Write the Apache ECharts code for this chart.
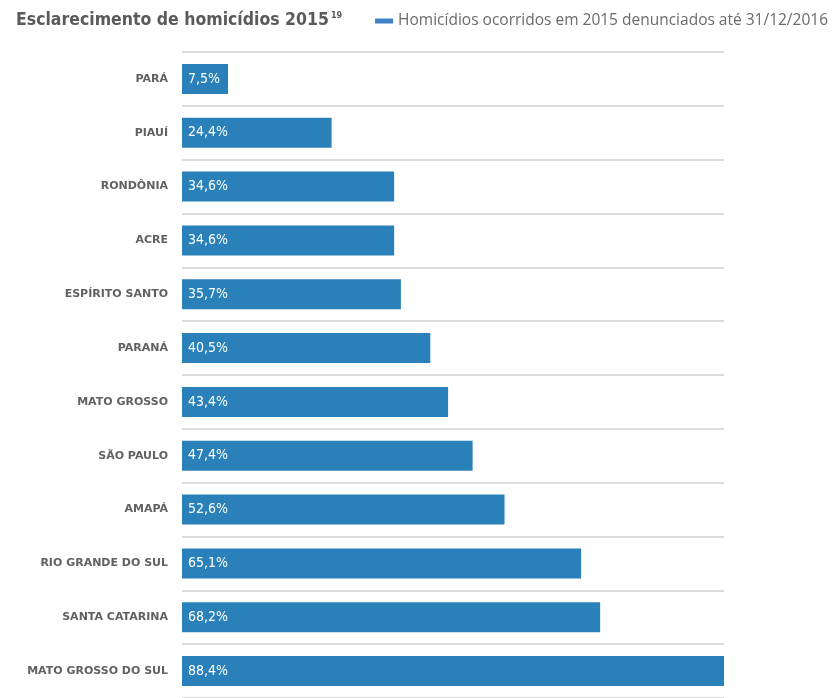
<!DOCTYPE html>
<html>
<head>
<meta charset="utf-8">
<title>Esclarecimento de homicídios 2015</title>
<script src="https://cdn.jsdelivr.net/npm/echarts@6/dist/echarts.min.js"></script>
<style>
  html, body { margin: 0; padding: 0; background: #fff; }
  #chart { width: 835px; height: 698px; }
</style>
</head>
<body>
<div id="chart"></div>
<script>
// dados
var estados = ['PARÁ', 'PIAUÍ', 'RONDÔNIA', 'ACRE', 'ESPÍRITO SANTO', 'PARANÁ', 'MATO GROSSO',
  'SÃO PAULO', 'AMAPÁ', 'RIO GRANDE DO SUL', 'SANTA CATARINA', 'MATO GROSSO DO SUL']
var esclarecidos = [7.5, 24.4, 34.6, 34.6, 35.7, 40.5, 43.4, 47.4, 52.6, 65.1, 68.2, 88.4]
var serieNome = 'Homicídios ocorridos em 2015 denunciados até 31/12/2016'

var myChart = echarts.init(document.getElementById('chart'))

var options = {
  animation: false,
  title: {
    text: '{t|Esclarecimento de homicídios 2015}{sup|19}',
    left: 11,
    top: 6,
    textStyle: {
      rich: {
        t: {
          fontFamily: 'DejaVu Sans Condensed',
          fontWeight: 'bold',
          fontSize: 17.5,
          color: '#5a5a5a'
        },
        sup: {
          fontFamily: 'DejaVu Sans Condensed',
          fontWeight: 'bold',
          fontSize: 9,
          color: '#5a5a5a',
          verticalAlign: 'top',
          padding: [0, 0, 8, 2]
        }
      }
    }
  },
  legend: {
    data: [serieNome],
    right: 2,
    top: 8,
    icon: 'rect',
    itemWidth: 18,
    itemHeight: 5,
    itemStyle: { color: '#4080c6' },
    textStyle: {
      color: '#6b6b6b',
      fontFamily: 'Open Sans',
      fontSize: 15.5
    }
  },
  grid: {
    left: 182,
    right: 111,
    top: 52,
    height: 648
  },
  xAxis: {
    type: 'value',
    min: 0,
    max: 'dataMax',
    show: false
  },
  yAxis: {
    type: 'category',
    data: estados,
    inverse: true,
    axisLine: { show: false },
    axisTick: { show: false },
    axisLabel: {
      margin: 14,
      color: '#616161',
      fontFamily: 'DejaVu Sans',
      fontWeight: 'bold',
      fontSize: 11
    },
    splitLine: {
      show: true,
      lineStyle: { color: '#dcdcdc', width: 2 }
    }
  },
  series: [{
    name: serieNome,
    type: 'bar',
    data: esclarecidos,
    barWidth: 30,
    itemStyle: { color: '#2a80b9' },
    label: {
      show: true,
      position: 'insideLeft',
      distance: 6,
      color: '#fff',
      fontFamily: 'DejaVu Sans Condensed',
      fontSize: 14,
      formatter: function (p) {
        return p.value.toFixed(1).replace('.', ',') + '%'
      }
    }
  }]
}

myChart.setOption(options)
</script>
</body>
</html>
